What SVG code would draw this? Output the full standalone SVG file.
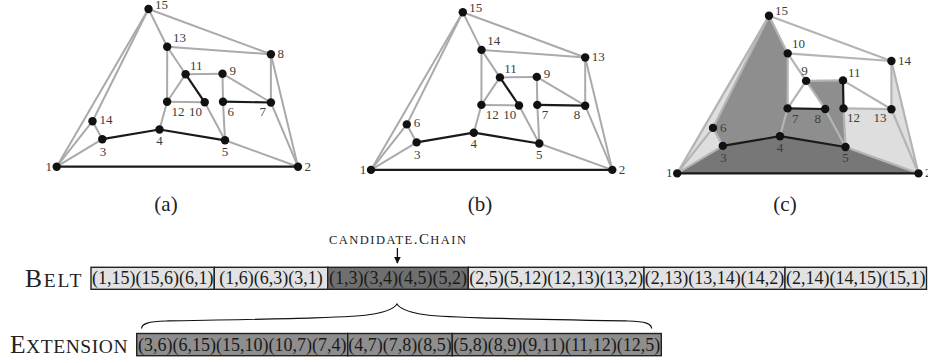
<svg xmlns="http://www.w3.org/2000/svg" width="928" height="363" viewBox="0 0 928 363">
<defs>
<style>
text{font-family:"Liberation Serif","Times New Roman",serif}
.g{stroke:#aaaaaa;stroke-width:2;fill:none;stroke-linecap:round}
.gc{stroke:#b4b4b4;stroke-width:2.2;fill:none;stroke-linecap:round}
.k{stroke:#1a1a1a;stroke-width:2.2;fill:none;stroke-linecap:round}
.nd{fill:#111}
.lb{font-size:13px;fill:#3c3c3c}
.box{stroke:#222;stroke-width:1.4}
.lt{fill:#e2e2e2}
.dk{fill:#6f6f6f}
.md{fill:#8e8e8e}
.bt{font-size:18px;fill:#1a1a1a;text-anchor:middle}
.cap{font-size:21px;fill:#222;text-anchor:middle}
.sh-d{fill:#777777}
.sh-m{fill:#8e8e8e}
.sh-l{fill:#dedede}
</style>
<marker id="arr" viewBox="0 0 10 10" refX="9" refY="5" markerWidth="7" markerHeight="8" markerUnits="userSpaceOnUse" orient="auto">
<path d="M0,0 L10,5 L0,10 z" fill="#111"/>
</marker>
</defs>
<rect width="928" height="363" fill="#fff"/>

<!-- ===== Graph (a) ===== -->
<g id="graph-a">
<g id="a-connectors">
<line class="g" x1="56.7" y1="166.7" x2="148.5" y2="9"/>
<line class="g" x1="56.7" y1="166.7" x2="92.5" y2="121.2"/>
<line class="g" x1="92.5" y1="121.2" x2="148.5" y2="9"/>
<line class="g" x1="92.5" y1="121.2" x2="102.3" y2="139.2"/>
<line class="g" x1="102.3" y1="139.2" x2="56.7" y2="166.7"/>
<line class="g" x1="148.5" y1="9" x2="167.2" y2="46.7"/>
<line class="g" x1="148.5" y1="9" x2="270.9" y2="54.3"/>
<line class="g" x1="167.2" y1="46.7" x2="270.9" y2="54.3"/>
<line class="g" x1="167.2" y1="46.7" x2="167.1" y2="101.7"/>
<line class="g" x1="167.2" y1="46.7" x2="185.6" y2="74.2"/>
<line class="g" x1="185.6" y1="74.2" x2="167.1" y2="101.7"/>
<line class="g" x1="185.6" y1="74.2" x2="222.5" y2="73.7"/>
<line class="g" x1="167.1" y1="101.7" x2="159.5" y2="129.5"/>
<line class="g" x1="204.7" y1="102.3" x2="225" y2="140.3"/>
<line class="g" x1="222.5" y1="73.7" x2="270.9" y2="102.5"/>
<line class="g" x1="223" y1="101.7" x2="225" y2="140.3"/>
<line class="g" x1="270.9" y1="54.3" x2="270.9" y2="102.5"/>
<line class="g" x1="270.9" y1="54.3" x2="298" y2="166.7"/>
<line class="g" x1="270.9" y1="102.5" x2="298" y2="166.7"/>
<line class="g" x1="225" y1="140.3" x2="298" y2="166.7"/>
<line class="g" x1="167.1" y1="101.7" x2="204.7" y2="102.3"/>
<line class="g" x1="222.5" y1="73.7" x2="223" y2="101.7"/>
<line class="k" x1="56.7" y1="166.7" x2="298" y2="166.7"/>
<line class="k" x1="102.3" y1="139.2" x2="159.5" y2="129.5"/>
<line class="k" x1="159.5" y1="129.5" x2="225" y2="140.3"/>
<line class="k" x1="185.6" y1="74.2" x2="204.7" y2="102.3"/>
<line class="k" x1="223" y1="101.7" x2="270.9" y2="102.5"/>
</g>
<g id="a-n1"><circle class="nd" cx="56.7" cy="166.7" r="4.2"/><text class="lb" x="52" y="170.5" text-anchor="end">1</text></g>
<g id="a-n2"><circle class="nd" cx="298" cy="166.7" r="4.2"/><text class="lb" x="304.5" y="170.5">2</text></g>
<g id="a-n3"><circle class="nd" cx="102.3" cy="139.2" r="4.2"/><text class="lb" x="103" y="155.5" text-anchor="middle">3</text></g>
<g id="a-n4"><circle class="nd" cx="159.5" cy="129.5" r="4.2"/><text class="lb" x="159.5" y="145" text-anchor="middle">4</text></g>
<g id="a-n5"><circle class="nd" cx="225" cy="140.3" r="4.2"/><text class="lb" x="225" y="155.5" text-anchor="middle">5</text></g>
<g id="a-n6"><circle class="nd" cx="223" cy="101.7" r="4.2"/><text class="lb" x="227.5" y="116">6</text></g>
<g id="a-n7"><circle class="nd" cx="270.9" cy="102.5" r="4.2"/><text class="lb" x="266" y="116" text-anchor="end">7</text></g>
<g id="a-n8"><circle class="nd" cx="270.9" cy="54.3" r="4.2"/><text class="lb" x="277.5" y="57.5">8</text></g>
<g id="a-n9"><circle class="nd" cx="222.5" cy="73.7" r="4.2"/><text class="lb" x="229.5" y="74.5">9</text></g>
<g id="a-n10"><circle class="nd" cx="204.7" cy="102.3" r="4.2"/><text class="lb" x="202" y="116" text-anchor="end">10</text></g>
<g id="a-n11"><circle class="nd" cx="185.6" cy="74.2" r="4.2"/><text class="lb" x="190" y="69.5">11</text></g>
<g id="a-n12"><circle class="nd" cx="167.1" cy="101.7" r="4.2"/><text class="lb" x="171.5" y="116">12</text></g>
<g id="a-n13"><circle class="nd" cx="167.2" cy="46.7" r="4.2"/><text class="lb" x="173" y="42">13</text></g>
<g id="a-n14"><circle class="nd" cx="92.5" cy="121.2" r="4.2"/><text class="lb" x="99.5" y="124">14</text></g>
<g id="a-n15"><circle class="nd" cx="148.5" cy="9" r="4.2"/><text class="lb" x="155" y="8.5">15</text></g>
</g>

<!-- ===== Graph (b) ===== -->
<g id="graph-b" transform="translate(314.3,3.2)">
<g id="b-connectors">
<line class="g" x1="56.7" y1="166.7" x2="148.5" y2="9"/>
<line class="g" x1="56.7" y1="166.7" x2="92.5" y2="121.2"/>
<line class="g" x1="92.5" y1="121.2" x2="148.5" y2="9"/>
<line class="g" x1="92.5" y1="121.2" x2="102.3" y2="139.2"/>
<line class="g" x1="102.3" y1="139.2" x2="56.7" y2="166.7"/>
<line class="g" x1="148.5" y1="9" x2="167.2" y2="46.7"/>
<line class="g" x1="148.5" y1="9" x2="270.9" y2="54.3"/>
<line class="g" x1="167.2" y1="46.7" x2="270.9" y2="54.3"/>
<line class="g" x1="167.2" y1="46.7" x2="167.1" y2="101.7"/>
<line class="g" x1="167.2" y1="46.7" x2="185.6" y2="74.2"/>
<line class="g" x1="185.6" y1="74.2" x2="167.1" y2="101.7"/>
<line class="g" x1="185.6" y1="74.2" x2="222.5" y2="73.7"/>
<line class="g" x1="167.1" y1="101.7" x2="159.5" y2="129.5"/>
<line class="g" x1="204.7" y1="102.3" x2="225" y2="140.3"/>
<line class="g" x1="222.5" y1="73.7" x2="270.9" y2="102.5"/>
<line class="g" x1="223" y1="101.7" x2="225" y2="140.3"/>
<line class="g" x1="270.9" y1="54.3" x2="270.9" y2="102.5"/>
<line class="g" x1="270.9" y1="54.3" x2="298" y2="166.7"/>
<line class="g" x1="270.9" y1="102.5" x2="298" y2="166.7"/>
<line class="g" x1="225" y1="140.3" x2="298" y2="166.7"/>
<line class="g" x1="167.1" y1="101.7" x2="204.7" y2="102.3"/>
<line class="g" x1="222.5" y1="73.7" x2="223" y2="101.7"/>
<line class="k" x1="56.7" y1="166.7" x2="298" y2="166.7"/>
<line class="k" x1="102.3" y1="139.2" x2="159.5" y2="129.5"/>
<line class="k" x1="159.5" y1="129.5" x2="225" y2="140.3"/>
<line class="k" x1="185.6" y1="74.2" x2="204.7" y2="102.3"/>
<line class="k" x1="223" y1="101.7" x2="270.9" y2="102.5"/>
</g>
<g id="b-n1"><circle class="nd" cx="56.7" cy="166.7" r="4.2"/><text class="lb" x="52" y="170.5" text-anchor="end">1</text></g>
<g id="b-n2"><circle class="nd" cx="298" cy="166.7" r="4.2"/><text class="lb" x="304.5" y="170.5">2</text></g>
<g id="b-n3"><circle class="nd" cx="102.3" cy="139.2" r="4.2"/><text class="lb" x="103" y="155.5" text-anchor="middle">3</text></g>
<g id="b-n4"><circle class="nd" cx="159.5" cy="129.5" r="4.2"/><text class="lb" x="159.5" y="145" text-anchor="middle">4</text></g>
<g id="b-n5"><circle class="nd" cx="225" cy="140.3" r="4.2"/><text class="lb" x="225" y="155.5" text-anchor="middle">5</text></g>
<g id="b-n7"><circle class="nd" cx="223" cy="101.7" r="4.2"/><text class="lb" x="227.5" y="116">7</text></g>
<g id="b-n8"><circle class="nd" cx="270.9" cy="102.5" r="4.2"/><text class="lb" x="266" y="116" text-anchor="end">8</text></g>
<g id="b-n13"><circle class="nd" cx="270.9" cy="54.3" r="4.2"/><text class="lb" x="277.5" y="57.5">13</text></g>
<g id="b-n9"><circle class="nd" cx="222.5" cy="73.7" r="4.2"/><text class="lb" x="229.5" y="74.5">9</text></g>
<g id="b-n10"><circle class="nd" cx="204.7" cy="102.3" r="4.2"/><text class="lb" x="202" y="116" text-anchor="end">10</text></g>
<g id="b-n11"><circle class="nd" cx="185.6" cy="74.2" r="4.2"/><text class="lb" x="190" y="69.5">11</text></g>
<g id="b-n12"><circle class="nd" cx="167.1" cy="101.7" r="4.2"/><text class="lb" x="171.5" y="116">12</text></g>
<g id="b-n14"><circle class="nd" cx="167.2" cy="46.7" r="4.2"/><text class="lb" x="173" y="42">14</text></g>
<g id="b-n6"><circle class="nd" cx="92.5" cy="121.2" r="4.2"/><text class="lb" x="99.5" y="124">6</text></g>
<g id="b-n15"><circle class="nd" cx="148.5" cy="9" r="4.2"/><text class="lb" x="155" y="8.5">15</text></g>
</g>

<!-- ===== Graph (c) ===== -->
<g id="graph-c" transform="translate(620.5,6.7)">
<g id="c-faces">
<polygon class="sh-l" points="56.7,166.7 148.5,9 92.5,121.2"/>
<polygon class="sh-l" points="56.7,166.7 92.5,121.2 102.3,139.2"/>
<polygon class="sh-l" points="298,166.7 225,140.3 223,101.7 270.9,102.5"/>
<polygon class="sh-l" points="298,166.7 270.9,102.5 270.9,54.3"/>
<polygon class="sh-m" points="102.3,139.2 92.5,121.2 148.5,9 167.2,46.7 167.1,101.7 159.5,129.5"/>
<polygon class="sh-m" points="159.5,129.5 167.1,101.7 204.7,102.3 225,140.3"/>
<polygon class="sh-m" points="225,140.3 204.7,102.3 185.6,74.2 222.5,73.7 223,101.7"/>
<polygon class="sh-d" points="56.7,166.7 102.3,139.2 159.5,129.5 225,140.3 298,166.7"/>
</g>
<g id="c-connectors">
<line class="gc" x1="56.7" y1="166.7" x2="148.5" y2="9"/>
<line class="gc" x1="56.7" y1="166.7" x2="92.5" y2="121.2"/>
<line class="gc" x1="92.5" y1="121.2" x2="148.5" y2="9"/>
<line class="gc" x1="92.5" y1="121.2" x2="102.3" y2="139.2"/>
<line class="gc" x1="102.3" y1="139.2" x2="56.7" y2="166.7"/>
<line class="gc" x1="148.5" y1="9" x2="167.2" y2="46.7"/>
<line class="gc" x1="148.5" y1="9" x2="270.9" y2="54.3"/>
<line class="gc" x1="167.2" y1="46.7" x2="270.9" y2="54.3"/>
<line class="gc" x1="167.2" y1="46.7" x2="167.1" y2="101.7"/>
<line class="gc" x1="167.2" y1="46.7" x2="185.6" y2="74.2"/>
<line class="gc" x1="185.6" y1="74.2" x2="167.1" y2="101.7"/>
<line class="gc" x1="185.6" y1="74.2" x2="222.5" y2="73.7"/>
<line class="gc" x1="167.1" y1="101.7" x2="159.5" y2="129.5"/>
<line class="gc" x1="204.7" y1="102.3" x2="225" y2="140.3"/>
<line class="gc" x1="222.5" y1="73.7" x2="270.9" y2="102.5"/>
<line class="gc" x1="223" y1="101.7" x2="225" y2="140.3"/>
<line class="gc" x1="270.9" y1="54.3" x2="270.9" y2="102.5"/>
<line class="gc" x1="270.9" y1="54.3" x2="298" y2="166.7"/>
<line class="gc" x1="270.9" y1="102.5" x2="298" y2="166.7"/>
<line class="gc" x1="225" y1="140.3" x2="298" y2="166.7"/>
<line class="gc" x1="185.6" y1="74.2" x2="204.7" y2="102.3"/>
<line class="gc" x1="223" y1="101.7" x2="270.9" y2="102.5"/>
<line class="k" x1="56.7" y1="166.7" x2="298" y2="166.7"/>
<line class="k" x1="102.3" y1="139.2" x2="159.5" y2="129.5"/>
<line class="k" x1="159.5" y1="129.5" x2="225" y2="140.3"/>
<line class="k" x1="167.1" y1="101.7" x2="204.7" y2="102.3"/>
<line class="k" x1="222.5" y1="73.7" x2="223" y2="101.7"/>
</g>
<g id="c-n1"><circle class="nd" cx="56.7" cy="166.7" r="4.2"/><text class="lb" x="52" y="170.5" text-anchor="end">1</text></g>
<g id="c-n2"><circle class="nd" cx="298" cy="166.7" r="4.2"/><text class="lb" x="304.5" y="170.5">2</text></g>
<g id="c-n3"><circle class="nd" cx="102.3" cy="139.2" r="4.2"/><text class="lb" x="103" y="155.5" text-anchor="middle">3</text></g>
<g id="c-n4"><circle class="nd" cx="159.5" cy="129.5" r="4.2"/><text class="lb" x="159.5" y="145" text-anchor="middle">4</text></g>
<g id="c-n5"><circle class="nd" cx="225" cy="140.3" r="4.2"/><text class="lb" x="225" y="155.5" text-anchor="middle">5</text></g>
<g id="c-n12"><circle class="nd" cx="223" cy="101.7" r="4.2"/><text class="lb" x="226.5" y="115.5">12</text></g>
<g id="c-n13"><circle class="nd" cx="270.9" cy="102.5" r="4.2"/><text class="lb" x="266" y="115.5" text-anchor="end">13</text></g>
<g id="c-n14"><circle class="nd" cx="270.9" cy="54.3" r="4.2"/><text class="lb" x="277.5" y="58">14</text></g>
<g id="c-n11"><circle class="nd" cx="222.5" cy="73.7" r="4.2"/><text class="lb" x="227.5" y="70.5">11</text></g>
<g id="c-n8"><circle class="nd" cx="204.7" cy="102.3" r="4.2"/><text class="lb" x="200.5" y="116" text-anchor="end">8</text></g>
<g id="c-n9"><circle class="nd" cx="185.6" cy="74.2" r="4.2"/><text class="lb" x="184" y="68.5" text-anchor="middle">9</text></g>
<g id="c-n7"><circle class="nd" cx="167.1" cy="101.7" r="4.2"/><text class="lb" x="171.5" y="116">7</text></g>
<g id="c-n10"><circle class="nd" cx="167.2" cy="46.7" r="4.2"/><text class="lb" x="171.5" y="41">10</text></g>
<g id="c-n6"><circle class="nd" cx="92.5" cy="121.2" r="4.2"/><text class="lb" x="99.5" y="125">6</text></g>
<g id="c-n15"><circle class="nd" cx="148.5" cy="9" r="4.2"/><text class="lb" x="154.5" y="8.5">15</text></g>
</g>

<!-- captions -->
<text class="cap" x="166" y="211">(a)</text>
<text class="cap" x="480" y="211">(b)</text>
<text class="cap" x="785" y="211">(c)</text>

<!-- candidate chain pointer -->
<g id="candidate-label">
<text x="329" y="244" textLength="137" lengthAdjust="spacing" fill="#222"><tspan font-size="12.5">CANDIDATE</tspan><tspan font-size="15">.C</tspan><tspan font-size="12.5">HAIN</tspan></text>
</g>
<g id="pointer">
<line x1="397.4" y1="248" x2="397.4" y2="263" stroke="#111" stroke-width="1.3" marker-end="url(#arr)"/>
</g>

<!-- Belt -->
<text x="25" y="286.5" textLength="56.5" lengthAdjust="spacing" fill="#222"><tspan font-size="25.5">B</tspan><tspan font-size="19.5">ELT</tspan></text>
<g id="belt">
<rect class="box lt" x="91" y="267.3" width="123.3" height="22"/>
<rect class="box lt" x="214.3" y="267.3" width="113.4" height="22"/>
<rect class="box dk" x="327.7" y="267.3" width="140.6" height="22"/>
<rect class="box lt" x="468.3" y="267.3" width="175.7" height="22"/>
<rect class="box lt" x="644" y="267.3" width="141" height="22"/>
<rect class="box lt" x="785" y="267.3" width="141.5" height="22"/>
<text class="bt" x="152.7" y="284">(1,15)(15,6)(6,1)</text>
<text class="bt" x="271" y="284">(1,6)(6,3)(3,1)</text>
<text class="bt" x="398" y="284">(1,3)(3,4)(4,5)(5,2)</text>
<text class="bt" x="556.2" y="284">(2,5)(5,12)(12,13)(13,2)</text>
<text class="bt" x="714.5" y="284">(2,13)(13,14)(14,2)</text>
<text class="bt" x="855.8" y="284">(2,14)(14,15)(15,1)</text>
</g>

<!-- brace -->
<g id="brace">
<path d="M141.5,328.5 C142,323.5 148,321.5 166,321 C 300,318.5 355,317.5 374,314 C 387,311.5 394,309 397,304 C 400,309 407,311.5 420,314 C 439,317.5 494,318.5 628,321 C 646,321.5 651,323.5 651.7,328.5" fill="none" stroke="#111" stroke-width="1.2"/>
</g>

<!-- Extension -->
<text x="10" y="353.3" textLength="117.5" lengthAdjust="spacing" fill="#222"><tspan font-size="25.5">E</tspan><tspan font-size="19.5">XTENSION</tspan></text>
<g id="extension">
<rect class="box md" x="136.7" y="333.5" width="211" height="22.2"/>
<rect class="box md" x="347.7" y="333.5" width="104.6" height="22.2"/>
<rect class="box md" x="452.3" y="333.5" width="209" height="22.2"/>
<text class="bt" x="242.2" y="350.5">(3,6)(6,15)(15,10)(10,7)(7,4)</text>
<text class="bt" x="400" y="350.5">(4,7)(7,8)(8,5)</text>
<text class="bt" x="556.8" y="350.5">(5,8)(8,9)(9,11)(11,12)(12,5)</text>
</g>
</svg>
